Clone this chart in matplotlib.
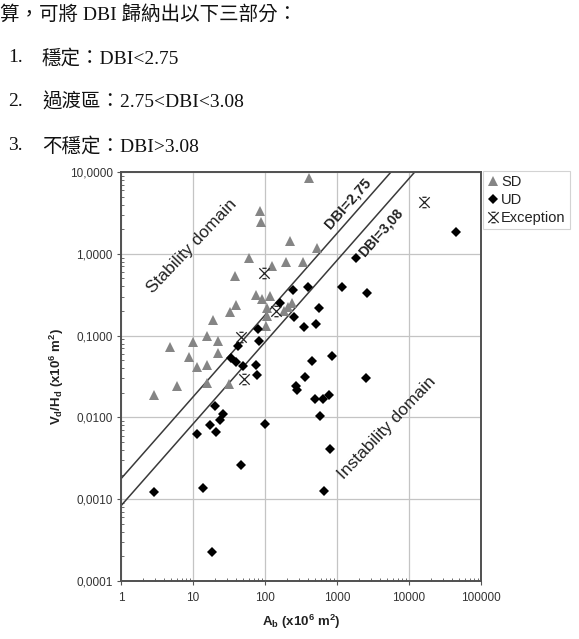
import numpy as np
import matplotlib
matplotlib.use("Agg")
import matplotlib.pyplot as plt
from matplotlib.path import Path
from matplotlib.lines import Line2D

plt.rcParams['font.family'] = ['Liberation Sans', 'DejaVu Sans']
plt.rcParams['mathtext.fontset'] = 'custom'
plt.rcParams['mathtext.rm'] = 'Liberation Sans'
plt.rcParams['mathtext.bf'] = 'Liberation Sans:bold'
plt.rcParams['mathtext.it'] = 'Liberation Sans:italic'

# ---------------- data ----------------
sd_area = [410, 84.5, 87, 220, 529, 59.4, 126, 194, 336, 38.4, 74.3, 92, 116,
           39.6, 32.4, 105, 108, 102, 206, 234, 182, 18.7, 15.4, 9.86, 21.9,
           4.78, 22.3, 8.9, 11.2, 15.7, 5.97, 2.84, 15.4, 31.7]
sd_ratio = [8.56, 3.29, 2.44, 1.42, 1.19, 0.886, 0.717, 0.803, 0.791, 0.529,
            0.318, 0.279, 0.306, 0.236, 0.195, 0.215, 0.174, 0.130, 0.224,
            0.249, 0.199, 0.157, 0.0984, 0.083, 0.0867, 0.0728, 0.061, 0.0552,
            0.0419, 0.0435, 0.024, 0.0186, 0.0261, 0.0256]

ud_area = [45000, 1807, 244, 400, 1156, 2594, 160, 555, 254, 344, 516, 80,
           83.1, 42.3, 854, 444, 34.2, 40.1, 49.9, 74.3, 77.5, 355, 2543, 271,
           278, 489, 637, 781, 573, 20.1, 26.2, 23.6, 17.3, 99, 11.2, 21.2,
           789, 46, 13.6, 2.87, 651, 18.1]
ud_ratio = [1.86, 0.898, 0.365, 0.391, 0.391, 0.333, 0.253, 0.2196, 0.1695,
            0.129, 0.139, 0.1197, 0.0867, 0.0736, 0.0571, 0.0493, 0.0536,
            0.0482, 0.0422, 0.0435, 0.0327, 0.0314, 0.0303, 0.0244, 0.0219,
            0.0170, 0.0170, 0.0187, 0.0103, 0.0139, 0.0109, 0.0093, 0.00817,
            0.00824, 0.00634, 0.00658, 0.00415, 0.00259, 0.00139, 0.00122,
            0.00126, 0.000226]

exc_area = [16300, 98, 144, 46, 51.2]
exc_ratio = [4.33, 0.589, 0.199, 0.097, 0.0292]

dbi_values = [2.75, 3.08]
dbi_labels = ['DBI=2,75', 'DBI=3,08']

x_ticks = [1, 10, 100, 1000, 10000, 100000]
x_ticklabels = ['1', '10', '100', '1000', '10000', '100000']
y_ticks = [0.0001, 0.001, 0.01, 0.1, 1, 10]
y_ticklabels = ['0,0001', '0,0010', '0,0100', '0,1000', '1,0000', '10,0000']

series_labels = ['SD', 'UD', 'Exception']

header_lines = ['算，可將 DBI 歸納出以下三部分：',
                '穩定：DBI<2.75',
                '過渡區：2.75<DBI<3.08',
                '不穩定：DBI>3.08']
header_numbers = ['1.', '2.', '3.']

# ---------------- figure ----------------
W, H = 579, 639
fig = plt.figure(figsize=(W / 100, H / 100), dpi=100)
fig.patch.set_facecolor('white')

def fx(px):
    return px / W

def fy(py):
    return 1 - py / H

ax = fig.add_axes([fx(121), fy(581), (481 - 121) / W, (581 - 172) / H])
ax.set_xscale('log')
ax.set_yscale('log')
ax.set_xlim(1, 100000)
ax.set_ylim(0.0001, 10)

ax.set_xticks(x_ticks)
ax.set_xticklabels(x_ticklabels)
ax.set_yticks(y_ticks)
ax.set_yticklabels(y_ticklabels)
ax.grid(True, which='major', color='#c4c4c4', linewidth=0.9)
ax.set_axisbelow(True)
ax.tick_params(axis='both', which='major', direction='out', length=3,
               color='#555555', labelsize=8.5, labelcolor='#333333')
ax.tick_params(axis='x', which='major', pad=5)
ax.tick_params(axis='y', which='major', pad=3)
ax.tick_params(axis='both', which='minor', direction='in', length=2.5,
               color='#555555', width=0.6)
ax.tick_params(axis='x', which='minor', labelbottom=False)
ax.tick_params(axis='y', which='minor', labelleft=False)
for sp in ax.spines.values():
    sp.set_color('#505050')
    sp.set_linewidth(1.4)

# DBI lines
xl = np.array([1, 100000], dtype=float)
for d in dbi_values:
    ax.plot(xl, xl / 10 ** d, color='#3a3a3a', linewidth=1.1, zorder=2)

# exception marker: X with small caps
exc_marker = Path([(-1, -1), (1, 1), (-1, 1), (1, -1),
                   (-0.4, 1), (0.4, 1), (-0.4, -1), (0.4, -1)],
                  [Path.MOVETO, Path.LINETO, Path.MOVETO, Path.LINETO,
                   Path.MOVETO, Path.LINETO, Path.MOVETO, Path.LINETO])

sd_color = '#858585'
ax.plot(sd_area, sd_ratio, linestyle='none', marker='^', markersize=7,
        color=sd_color, markeredgewidth=0, zorder=3)
ax.plot(ud_area, ud_ratio, linestyle='none', marker='D', markersize=5.6,
        color='black', markeredgewidth=0, zorder=4)
ax.plot(exc_area, exc_ratio, linestyle='none', marker=exc_marker,
        markersize=7.5, markerfacecolor='none', markeredgecolor='#222222',
        markeredgewidth=0.9, zorder=5)

# annotations
ax.text(9.55, 1.24, 'Stability domain', rotation=46.5, fontsize=12.5,
        color='#222222', ha='center', va='center', rotation_mode='anchor')
ax.text(4940, 0.00746, 'Instability domain', rotation=46.5, fontsize=12.5,
        color='#222222', ha='center', va='center', rotation_mode='anchor')
ax.text(1413, 4.09, dbi_labels[0], rotation=48.5, fontsize=10.5,
        fontweight='bold', color='#222222', ha='center', va='center',
        rotation_mode='anchor')
ax.text(4104, 1.84, dbi_labels[1], rotation=48.5, fontsize=10,
        fontweight='bold', color='#222222', ha='center', va='center',
        rotation_mode='anchor')

# axis labels
fig.text(fx(301), fy(622), r'$\mathbf{A_b\ (x10^6\ m^2)}$', fontsize=9.5,
         ha='center', va='center', color='#222222')
fig.text(fx(57), fy(376), r'$\mathbf{V_d/H_d\ (x10^6\ m^2)}$', fontsize=9.5,
         ha='center', va='center', rotation=90, color='#222222')

# legend
handles = [
    Line2D([], [], linestyle='none', marker='^', markersize=7, color=sd_color,
           markeredgewidth=0),
    Line2D([], [], linestyle='none', marker='D', markersize=5.6, color='black',
           markeredgewidth=0),
    Line2D([], [], linestyle='none', marker=exc_marker, markersize=7.5,
           markerfacecolor='none', markeredgecolor='#222222',
           markeredgewidth=0.9),
]
leg = fig.legend(handles, series_labels, loc='upper left',
                 bbox_to_anchor=(fx(483), fy(171)), bbox_transform=fig.transFigure,
                 fontsize=10.5, frameon=True, fancybox=False, handlelength=0.8,
                 handletextpad=0.15, borderpad=0.3, labelspacing=0.25,
                 borderaxespad=0)
leg.get_frame().set_edgecolor('#c8c8c8')
leg.get_frame().set_linewidth(0.8)
for t in leg.get_texts():
    t.set_color('#222222')

# header text
hfam = ['Liberation Serif', 'Noto Sans CJK TC']
fig.text(fx(0), fy(14), header_lines[0], fontsize=14, family=hfam,
         ha='left', va='center', color='#111111')
rows_y = [58, 102, 146]
for num, line, yy in zip(header_numbers, header_lines[1:], rows_y):
    fig.text(fx(8), fy(yy), num, fontsize=14, family=hfam, ha='left',
             va='center', color='#111111')
    fig.text(fx(42), fy(yy), line, fontsize=14, family=hfam, ha='left',
             va='center', color='#111111')

fig.savefig('out.png', dpi=100, facecolor='white')
